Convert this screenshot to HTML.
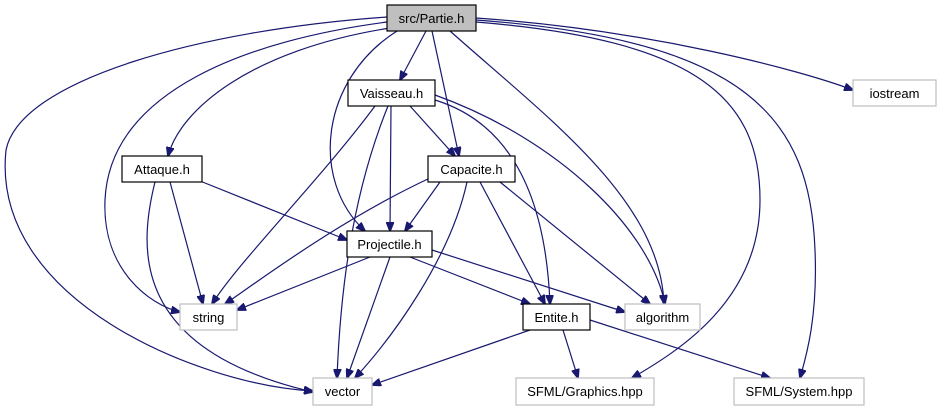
<!DOCTYPE html>
<html><head><meta charset="utf-8"><style>
html,body{margin:0;padding:0;background:#fff;}
svg{display:block;font-family:"Liberation Sans",Helvetica,sans-serif;}
text{font-size:13px;text-anchor:middle;fill:#000;}
.e{fill:none;stroke:#191970;stroke-width:1.2;marker-end:url(#a);}
.n{fill:#fff;stroke:#000;stroke-width:1.2;}
.g{fill:#fff;stroke:#bfbfbf;stroke-width:1.2;}
</style></head><body>
<svg width="941" height="411" viewBox="0 0 941 411">
<defs><marker id="a" markerWidth="10" markerHeight="8" refX="9" refY="4" orient="auto" markerUnits="userSpaceOnUse"><path d="M0,0 L10,4 L0,8 z" fill="#191970" stroke="#191970"/></marker></defs>
<path class="e" d="M426,31 L400,80"/>
<path class="e" d="M476,18 C650,30 800,70 853,90"/>
<path class="e" d="M390,28 C250,50 180,110 168,156"/>
<path class="e" d="M432,31 L459,156"/>
<path class="e" d="M397,31 C320,80 310,180 365,231"/>
<path class="e" d="M387,22 C250,40 110,90 105,200 C102,270 150,305 180,312"/>
<path class="e" d="M387,17 C200,30 20,80 6,150 C-10,300 200,385 313,391"/>
<path class="e" d="M450,31 C550,120 660,200 664,304"/>
<path class="e" d="M476,22 C700,40 760,100 760,200 C760,300 680,350 632,378"/>
<path class="e" d="M476,20 C750,40 810,120 815,250 C818,320 805,360 800,378"/>
<path class="e" d="M410,106 L455,156"/>
<path class="e" d="M391,106 L390,231"/>
<path class="e" d="M375,106 C320,180 240,260 212,304"/>
<path class="e" d="M388,106 C350,200 340,300 337,378"/>
<path class="e" d="M435,100 C500,120 545,180 550,304"/>
<path class="e" d="M435,95 C560,140 650,230 665,304"/>
<path class="e" d="M200,181 L347,240"/>
<path class="e" d="M170,182 L203,304"/>
<path class="e" d="M155,182 C138,250 132,350 313,392"/>
<path class="e" d="M440,182 L405,231"/>
<path class="e" d="M430,178 C340,220 260,280 225,304"/>
<path class="e" d="M467,182 C450,260 390,340 355,378"/>
<path class="e" d="M480,182 L545,304"/>
<path class="e" d="M500,182 L650,304"/>
<path class="e" d="M370,257 L237,310"/>
<path class="e" d="M390,257 L347,378"/>
<path class="e" d="M410,257 L530,304"/>
<path class="e" d="M432,250 L625,312"/>
<path class="e" d="M530,330 L372,385"/>
<path class="e" d="M563,330 L578,378"/>
<path class="e" d="M590,320 L770,378"/>

<rect x="387" y="5" width="89" height="26" fill="#bfbfbf" stroke="#000" stroke-width="1.2"/><text x="431.5" y="23">src/Partie.h</text>
<rect class="n" x="348" y="80" width="87" height="26"/><text x="391.5" y="98">Vaisseau.h</text>
<rect class="g" x="853" y="80" width="83" height="26"/><text x="894.5" y="98">iostream</text>
<rect class="n" x="122" y="156" width="80" height="26"/><text x="162" y="174">Attaque.h</text>
<rect class="n" x="428" y="156" width="87" height="26"/><text x="471.5" y="174">Capacite.h</text>
<rect class="n" x="347" y="231" width="85" height="26"/><text x="389.5" y="249">Projectile.h</text>
<rect class="g" x="180" y="304" width="57" height="26"/><text x="208.5" y="322">string</text>
<rect class="n" x="523" y="304" width="67" height="26"/><text x="556.5" y="322">Entite.h</text>
<rect class="g" x="625" y="304" width="75" height="26"/><text x="662.5" y="322">algorithm</text>
<rect class="g" x="313" y="378" width="59" height="27"/><text x="342.5" y="396">vector</text>
<rect class="g" x="516" y="378" width="138" height="27"/><text x="585" y="396">SFML/Graphics.hpp</text>
<rect class="g" x="734" y="378" width="130" height="27"/><text x="799" y="396">SFML/System.hpp</text>
</svg>
</body></html>
